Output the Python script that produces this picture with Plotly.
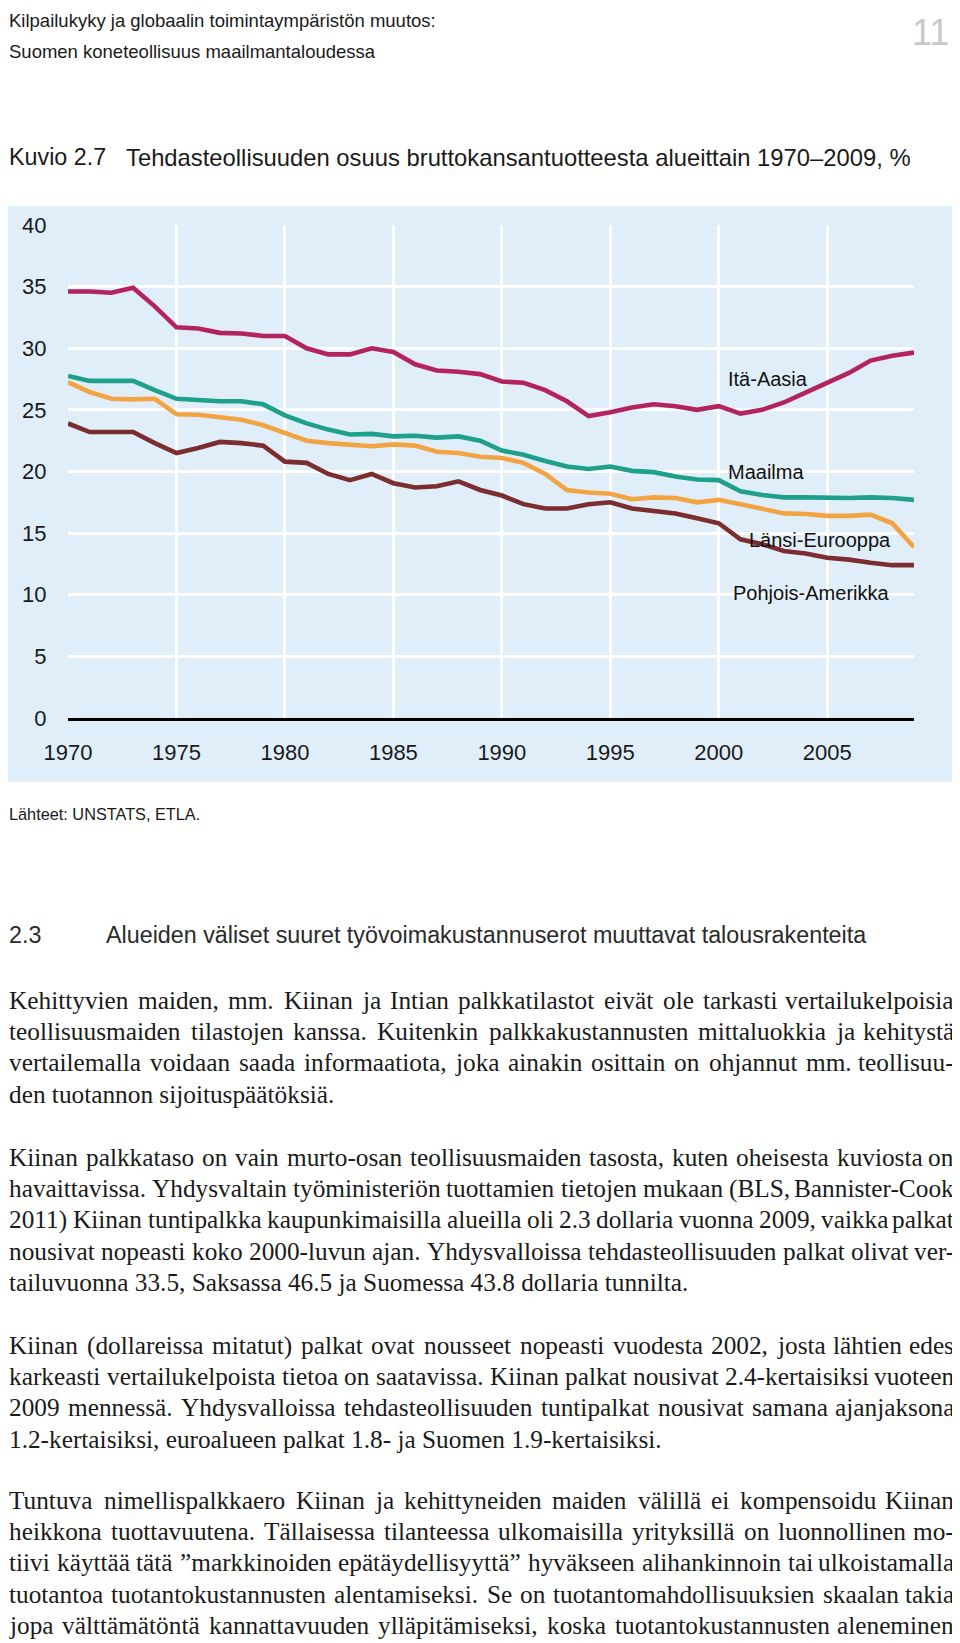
import plotly.graph_objects as go

# ---------------- data ----------------
years = list(range(1970, 2010))
ita_aasia = [34.6, 34.6, 34.5, 34.9, 33.4, 31.7, 31.6, 31.25, 31.2, 31.0,
             31.0, 30.0, 29.5, 29.5, 30.0, 29.7, 28.7, 28.2, 28.1, 27.9,
             27.3, 27.2, 26.6, 25.7, 24.5, 24.8, 25.2, 25.45, 25.3, 25.0,
             25.3, 24.7, 25.0, 25.6, 26.4, 27.2, 28.0, 29.0, 29.4, 29.65]
maailma = [27.75, 27.35, 27.35, 27.35, 26.6, 25.9, 25.8, 25.7, 25.7, 25.45,
           24.55, 23.9, 23.4, 23.0, 23.05, 22.85, 22.9, 22.75, 22.85, 22.5,
           21.7, 21.35, 20.85, 20.4, 20.2, 20.4, 20.05, 19.95, 19.6, 19.35,
           19.3, 18.4, 18.1, 17.9, 17.9, 17.85, 17.85, 17.9, 17.85, 17.7]
lansi_eurooppa = [27.25, 26.45, 25.9, 25.85, 25.9, 24.65, 24.6, 24.4, 24.2, 23.75,
                  23.15, 22.5, 22.3, 22.2, 22.05, 22.2, 22.1, 21.6, 21.5, 21.2,
                  21.1, 20.7, 19.8, 18.5, 18.3, 18.2, 17.75, 17.9, 17.85, 17.5,
                  17.7, 17.35, 16.95, 16.6, 16.55, 16.4, 16.4, 16.5, 15.8, 13.85]
pohjois_amerikka = [23.9, 23.2, 23.2, 23.2, 22.3, 21.5, 21.9, 22.4, 22.3, 22.1,
                    20.8, 20.7, 19.8, 19.3, 19.8, 19.05, 18.7, 18.8, 19.2, 18.5,
                    18.05, 17.35, 17.0, 17.0, 17.35, 17.5, 17.0, 16.8, 16.6, 16.2,
                    15.8, 14.5, 14.1, 13.55, 13.35, 13.0, 12.85, 12.6, 12.4, 12.4]

series_names = ["Itä-Aasia", "Maailma", "Länsi-Eurooppa", "Pohjois-Amerikka"]
series_colors = ["#b3245f", "#1ea08a", "#f2a443", "#7b2d2f"]
x_ticks = [1970, 1975, 1980, 1985, 1990, 1995, 2000, 2005]
y_ticks = [0, 5, 10, 15, 20, 25, 30, 35, 40]

header_lines = ["Kilpailukyky ja globaalin toimintaympäristön muutos:",
                "Suomen koneteollisuus maailmantaloudessa"]
page_no = "11"
fig_label = "Kuvio 2.7"
fig_title = "Tehdasteollisuuden osuus bruttokansantuotteesta alueittain 1970–2009, %"
source = "Lähteet: UNSTATS, ETLA."
section_no = "2.3"
section_title = "Alueiden väliset suuret työvoimakustannuserot muuttavat talousrakenteita"

paragraphs = [
    ["Kehittyvien maiden, mm. Kiinan ja Intian palkkatilastot eivät ole tarkasti vertailukelpoisia",
     "teollisuusmaiden tilastojen kanssa. Kuitenkin palkkakustannusten mittaluokkia ja kehitystä",
     "vertailemalla voidaan saada informaatiota, joka ainakin osittain on ohjannut mm. teollisuu-",
     "den tuotannon sijoituspäätöksiä."],
    ["Kiinan palkkataso on vain murto-osan teollisuusmaiden tasosta, kuten oheisesta kuviosta on",
     "havaittavissa. Yhdysvaltain työministeriön tuottamien tietojen mukaan (BLS, Bannister-Cook",
     "2011) Kiinan tuntipalkka kaupunkimaisilla alueilla oli 2.3 dollaria vuonna 2009, vaikka palkat",
     "nousivat nopeasti koko 2000-luvun ajan. Yhdysvalloissa tehdasteollisuuden palkat olivat ver-",
     "tailuvuonna 33.5, Saksassa 46.5 ja Suomessa 43.8 dollaria tunnilta."],
    ["Kiinan (dollareissa mitatut) palkat ovat nousseet nopeasti vuodesta 2002, josta lähtien edes",
     "karkeasti vertailukelpoista tietoa on saatavissa. Kiinan palkat nousivat 2.4-kertaisiksi vuoteen",
     "2009 mennessä. Yhdysvalloissa tehdasteollisuuden tuntipalkat nousivat samana ajanjaksona",
     "1.2-kertaisiksi, euroalueen palkat 1.8- ja Suomen 1.9-kertaisiksi."],
    ["Tuntuva nimellispalkkaero Kiinan ja kehittyneiden maiden välillä ei kompensoidu Kiinan",
     "heikkona tuottavuutena. Tällaisessa tilanteessa ulkomaisilla yrityksillä on luonnollinen mo-",
     "tiivi käyttää tätä ”markkinoiden epätäydellisyyttä” hyväkseen alihankinnoin tai ulkoistamalla",
     "tuotantoa tuotantokustannusten alentamiseksi. Se on tuotantomahdollisuuksien skaalan takia",
     "jopa välttämätöntä kannattavuuden ylläpitämiseksi, koska tuotantokustannusten aleneminen"],
]
# last line of the last paragraph continues on the next page -> justified
para_last_justified = [False, False, False, True]

# ---------------- layout helpers ----------------
OFF = 8                       # default page body margin
W, H = 960 - OFF, 1643 - OFF  # figure size


def px(x):
    return (x - OFF) / W


def py(y):
    return 1 - (y - OFF) / H


SERIF = "Liberation Serif, Times New Roman, serif"
SANS = "Liberation Sans, Arial, sans-serif"
TXT = "#1a1a1a"

# Liberation Serif advance widths (per 1000 em) used for justification
TW = {' ': 250, '!': 333, '(': 333, ')': 333, ',': 250, '-': 333, '.': 250, ':': 278, ';': 278,
      '%': 833, '”': 444, '“': 444, '–': 500,
      'A': 722, 'B': 667, 'C': 667, 'D': 722, 'E': 611, 'F': 556, 'G': 722, 'H': 722, 'I': 333,
      'J': 389, 'K': 722, 'L': 611, 'M': 889, 'N': 722, 'O': 722, 'P': 556, 'Q': 722, 'R': 667,
      'S': 556, 'T': 611, 'U': 722, 'V': 722, 'W': 944, 'X': 722, 'Y': 722, 'Z': 611,
      'a': 444, 'b': 500, 'c': 444, 'd': 500, 'e': 444, 'f': 333, 'g': 500, 'h': 500, 'i': 278,
      'j': 278, 'k': 500, 'l': 278, 'm': 778, 'n': 500, 'o': 500, 'p': 500, 'q': 500, 'r': 333,
      's': 389, 't': 278, 'u': 500, 'v': 500, 'w': 722, 'x': 500, 'y': 500, 'z': 444,
      'ä': 444, 'ö': 500, 'å': 444, 'Ä': 722, 'Ö': 722}
for d in "0123456789":
    TW[d] = 500

annotations = []


def text_ann(text, xpx, ypx, size, family, color=TXT, anchor="left"):
    annotations.append(dict(text=text, x=px(xpx), y=py(ypx), xref="paper", yref="paper",
                            xanchor=anchor, yanchor="middle", showarrow=False, borderpad=0,
                            font=dict(family=family, size=size, color=color)))


BODY_SIZE = 25.3
LEFT, RIGHT = 8, 955


def body_line(text, ypx, justify):
    if not justify:
        text_ann(text, LEFT, ypx, BODY_SIZE, SERIF)
        return
    words = text.split(" ")
    widths = [sum(TW.get(c, 500) for c in w) / 1000 * BODY_SIZE for w in words]
    gap = (RIGHT - LEFT - sum(widths)) / (len(words) - 1)
    x = LEFT
    for i, (w, wd) in enumerate(zip(words, widths)):
        if i == len(words) - 1:
            text_ann(w, RIGHT, ypx, BODY_SIZE, SERIF, anchor="right")
        else:
            text_ann(w, x, ypx, BODY_SIZE, SERIF)
        x += wd + gap


# header
text_ann(header_lines[0], 8, 21, 18.5, SANS)
text_ann(header_lines[1], 8, 52, 18.5, SANS)
text_ann(page_no, 950, 32, 36, SANS, color="#c8c8c8", anchor="right")
text_ann(fig_label, 8, 157, 23.3, SANS)
text_ann(fig_title, 125, 157, 23.8, SANS)
text_ann(source, 8, 814, 16.3, SANS)
text_ann(section_no, 8, 935, 23.3, SANS, color="#2a2a2a")
text_ann(section_title, 105, 935, 23.3, SANS, color="#2a2a2a")

para_starts = [1000, 1157, 1345, 1500]
LINE = 31.2
for p, start, lastj in zip(paragraphs, para_starts, para_last_justified):
    for i, line in enumerate(p):
        is_last = i == len(p) - 1
        body_line(line, start + i * LINE, (not is_last) or lastj)

# series labels (data coordinates)
label_pos = [(2000.4, 27.5), (2000.4, 20.0), (2001.35, 14.45), (2000.6, 10.15)]
for name, (lx, ly) in zip(series_names, label_pos):
    annotations.append(dict(text=name, x=lx, y=ly, xref="x", yref="y", xanchor="left",
                            yanchor="middle", showarrow=False, borderpad=0,
                            font=dict(family=SANS, size=20, color="#111111")))

fig = go.Figure()
for name, vals, col in zip(series_names,
                           [ita_aasia, maailma, lansi_eurooppa, pohjois_amerikka],
                           series_colors):
    fig.add_trace(go.Scatter(x=years, y=vals, mode="lines", name=name,
                             line=dict(color=col, width=4.6), hoverinfo="skip"))

fig.update_layout(
    width=W, height=H,
    margin=dict(l=0, r=0, t=0, b=0, pad=0, autoexpand=False),
    paper_bgcolor="white",
    plot_bgcolor="rgba(0,0,0,0)",
    showlegend=False,
    annotations=annotations,
    shapes=[dict(type="rect", xref="paper", yref="paper",
                 x0=px(8), x1=px(955), y0=py(782), y1=py(206),
                 fillcolor="#e0eefa", line=dict(width=0), layer="below")],
    xaxis=dict(domain=[px(68), px(914)], range=[1970, 2009], tickvals=x_ticks,
               automargin=False,
               showgrid=True, gridcolor="white", gridwidth=2.6,
               zeroline=False, showline=True, linecolor="black", linewidth=3,
               ticks="outside", ticklen=13, tickcolor="rgba(0,0,0,0)",
               tickfont=dict(family=SANS, size=22, color=TXT)),
    yaxis=dict(domain=[py(718), py(225)], range=[0, 40], tickvals=y_ticks,
               automargin=False,
               showgrid=True, gridcolor="white", gridwidth=2.6,
               zeroline=False, showline=False,
               ticks="outside", ticklen=16, tickcolor="rgba(0,0,0,0)",
               tickfont=dict(family=SANS, size=22, color=TXT)),
)

fig.write_html("out.html")
